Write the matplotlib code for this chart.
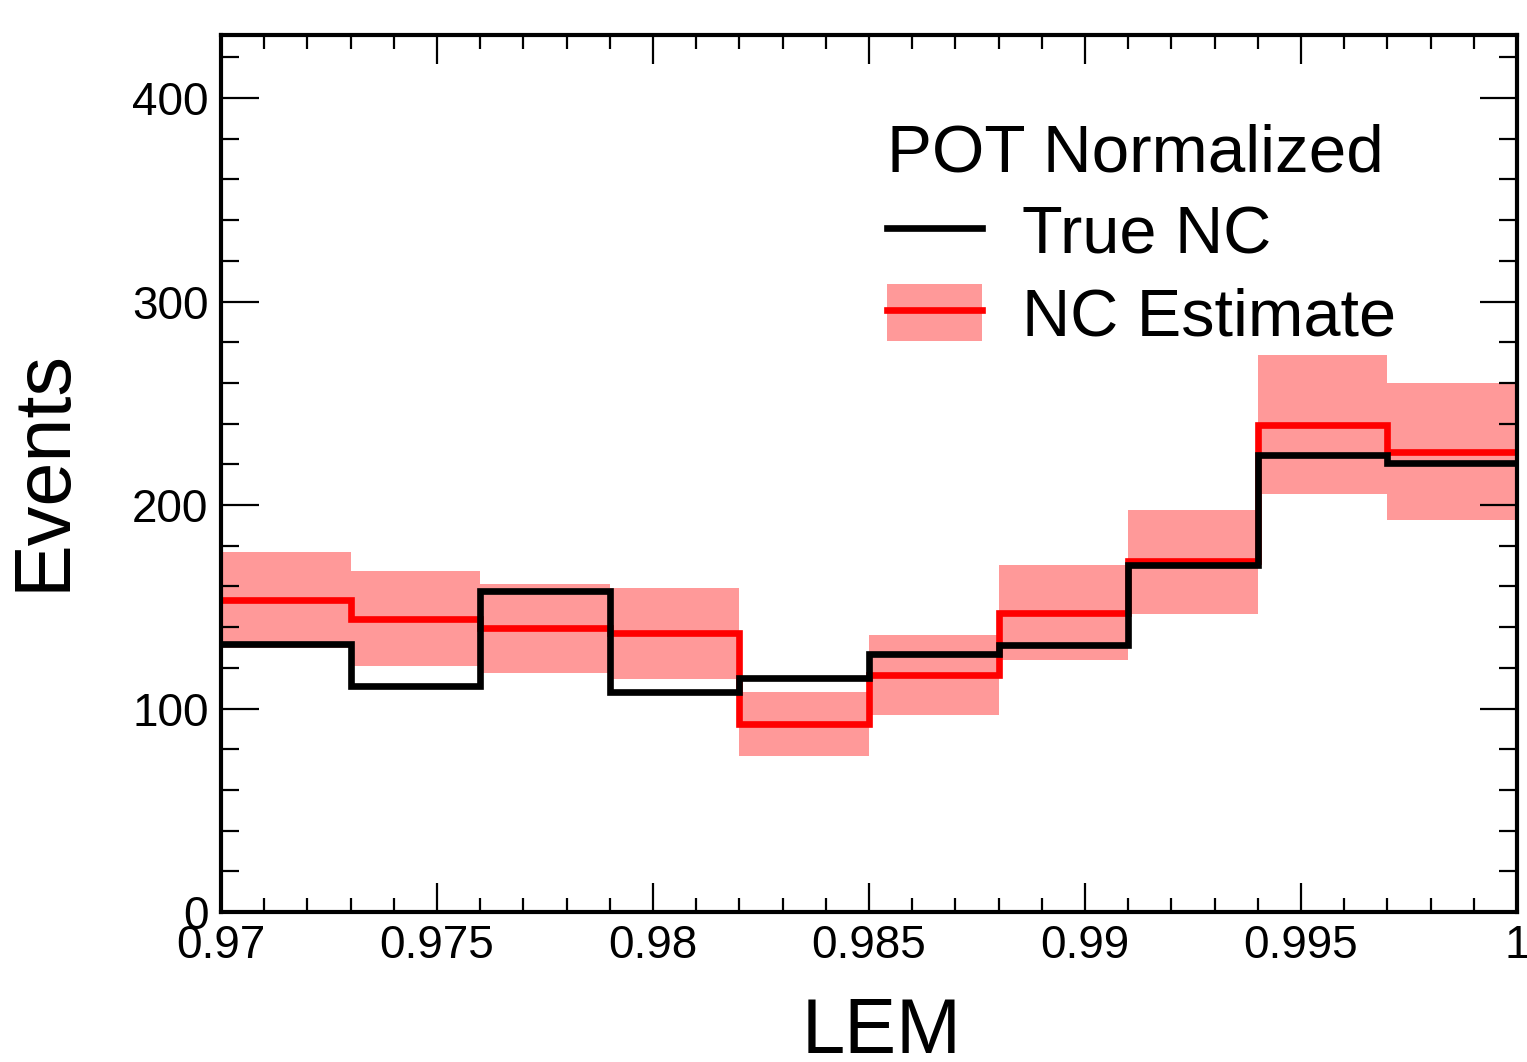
import matplotlib
matplotlib.use("Agg")
import matplotlib.pyplot as plt
from matplotlib.lines import Line2D
from matplotlib.patches import Patch
from matplotlib.ticker import MultipleLocator, FixedLocator, FixedFormatter
import numpy as np

plt.rcParams['font.family'] = ['Liberation Sans', 'DejaVu Sans']

# Data
bin_edges = [0.970, 0.973, 0.976, 0.979, 0.982, 0.985, 0.988, 0.991, 0.994, 0.997, 1.000]
true_nc = [131.5, 111.2, 157.8, 108.2, 115.0, 127.0, 131.0, 170.3, 224.8, 220.9]
nc_estimate = [153.2, 144.2, 139.5, 137.0, 92.2, 116.5, 147.0, 172.5, 239.5, 226.3]
nc_upper = [176.7, 167.4, 161.0, 159.0, 108.2, 136.0, 170.3, 197.6, 273.8, 260.1]
nc_lower = [129.6, 121.0, 117.4, 114.6, 76.6, 97.0, 123.8, 146.5, 205.2, 192.5]
xtick_vals = [0.97, 0.975, 0.98, 0.985, 0.99, 0.995, 1.0]
xtick_labels = ["0.97", "0.975", "0.98", "0.985", "0.99", "0.995", "1"]
ytick_vals = [0, 100, 200, 300, 400]

band_color = (1.0, 0.6, 0.6)
LW = 4.8

fig = plt.figure(figsize=(15.27, 10.62), dpi=100)
ax = fig.add_axes([221/1527, 1 - 912/1062, (1517-221)/1527, (912-35)/1062])

ax.stairs(nc_upper, bin_edges, baseline=nc_lower, fill=True, color=band_color, lw=0)
ax.stairs(nc_estimate, bin_edges, baseline=None, color='red', lw=LW)
ax.stairs(true_nc, bin_edges, baseline=None, color='black', lw=LW)

ax.set_xlim(0.97, 1.0)
ax.set_ylim(0, 431)

ax.xaxis.set_major_locator(FixedLocator(xtick_vals))
ax.xaxis.set_major_formatter(FixedFormatter(xtick_labels))
ax.xaxis.set_minor_locator(MultipleLocator(0.001))
ax.yaxis.set_major_locator(FixedLocator(ytick_vals))
ax.yaxis.set_minor_locator(MultipleLocator(20))

for s in ax.spines.values():
    s.set_linewidth(3.0)

ax.tick_params(axis='both', which='both', direction='in', top=True, right=True, width=1.6)
ax.tick_params(axis='y', which='major', length=27, labelsize=33, pad=9)
ax.tick_params(axis='y', which='minor', length=13)
ax.tick_params(axis='x', which='major', length=21, labelsize=33, pad=9)
ax.tick_params(axis='x', which='minor', length=10)

ax.set_xlabel("LEM", fontsize=56, va='baseline')
ax.xaxis.set_label_coords(0.51, -0.1608)
ax.set_ylabel("Events", fontsize=57, va='baseline')
ax.yaxis.set_label_coords(-0.1204, 0.504)

h_true = Line2D([], [], color='black', lw=LW)
h_est = (Patch(facecolor=band_color, edgecolor='none'), Line2D([], [], color='red', lw=LW))
leg = ax.legend([h_true, h_est], ["True NC", "NC Estimate"], title="POT Normalized",
                loc='upper left', bbox_to_anchor=(887/1527, 1 - 123/1062),
                bbox_transform=fig.transFigure, frameon=False, fontsize=48,
                title_fontsize=48.5, alignment='left', handlelength=1.42,
                handleheight=0.93, handletextpad=0.6, labelspacing=0.255,
                borderpad=0, borderaxespad=0)

fig.savefig("out.png", dpi=100)
